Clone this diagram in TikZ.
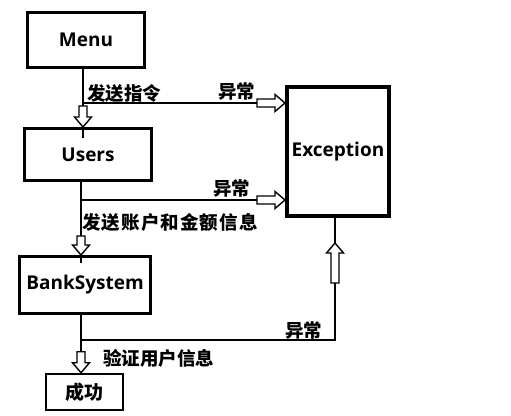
\documentclass[tikz,border=0pt]{standalone}
\usepackage{fontspec}
\setmainfont{Open Sans}
\newfontfamily\cjk{Noto Sans CJK SC}
\newfontfamily\cjkwide{Noto Sans CJK SC}[LetterSpace=6]
\newcommand\hollowarrow[3]{%
  \begin{scope}[shift={(#1)}, rotate=#2]
    \filldraw[fill=white, line width=1.4pt, line join=miter]
      (0,0) -- (-10,-8.5) -- (-10,-4) -- (-#3,-4) -- (-#3,4) -- (-10,4) -- (-10,8.5) -- cycle;
  \end{scope}}
\begin{document}
\begin{tikzpicture}[x=1pt, y=-1pt,
  box/.style={draw, line width=3pt, inner sep=0pt, font=\bfseries\fontsize{19}{22}\selectfont},
  conn/.style={line width=2pt},
  lbl/.style={font=\cjk\bfseries\fontsize{18.5}{22}\selectfont, inner sep=0pt},
  lblwide/.style={font=\cjkwide\bfseries\fontsize{18.5}{22}\selectfont, inner sep=0pt}]
\useasboundingbox (0,0) rectangle (511,415);

\node[box, minimum width=117pt, minimum height=55pt] (menu) at (86,40) {Menu};
\node[box, minimum width=127pt, minimum height=52pt] (users) at (88,154.5) {Users};
\node[box, minimum width=131pt, minimum height=57pt] (bank) at (85,285) {BankSystem};
\node[box, line width=2.5pt, minimum width=77pt, minimum height=36pt] (success) at (84.5,392) {\cjk 成功};
\node[box, line width=4pt, minimum width=102pt, minimum height=129pt] (exc) at (338,151.5) {Exception};

% Menu -> Users, with branch to Exception
\draw[conn] ([xshift=-3pt]menu.south) -- ([xshift=-5pt,yshift=-11pt]users.north);
\path ([xshift=-3pt]menu.south) ++(0,34) coordinate (j1);
\draw[conn] (j1) -- (j1 -| exc.west);
\hollowarrow{j1 -| exc.west}{0}{28}
\hollowarrow{[xshift=-5pt]users.north}{-90}{21}

% Users -> BankSystem, with branch to Exception
\draw[conn] ([xshift=-7pt]users.south) -- ([xshift=-4pt,yshift=-8pt]bank.north);
\path ([xshift=-7pt]users.south) ++(0,18) coordinate (j2);
\draw[conn] (j2) -- (j2 -| exc.west);
\hollowarrow{j2 -| exc.west}{0}{28}
\hollowarrow{[xshift=-4pt]bank.north}{-90}{19}

% BankSystem -> success, with branch up to Exception
\draw[conn] ([xshift=-4pt]bank.south) -- ([xshift=-3.5pt]success.north);
\path ([xshift=-4pt]bank.south) ++(0,25) coordinate (j3);
\draw[conn] (j3) -| ([xshift=-3pt]exc.south);
\hollowarrow{[xshift=-3pt,yshift=-25pt]exc.south}{90}{40}
\hollowarrow{[xshift=-3.5pt]success.north}{-90}{21}

% labels
\node[lbl, anchor=west] (l1) at (87,93) {发送指令};
\node[lbl, anchor=west] (l2) at (218,91) {异常};
\node[lbl, anchor=west] (l3) at (213,188) {异常};
\node[lblwide, anchor=west] (l4) at (82,222) {发送账户和金额信息};
\node[lbl, anchor=west] (l5) at (285,330) {异常};
\node[lbl, anchor=west] (l6) at (103,358) {验证用户信息};
\end{tikzpicture}
\end{document}
